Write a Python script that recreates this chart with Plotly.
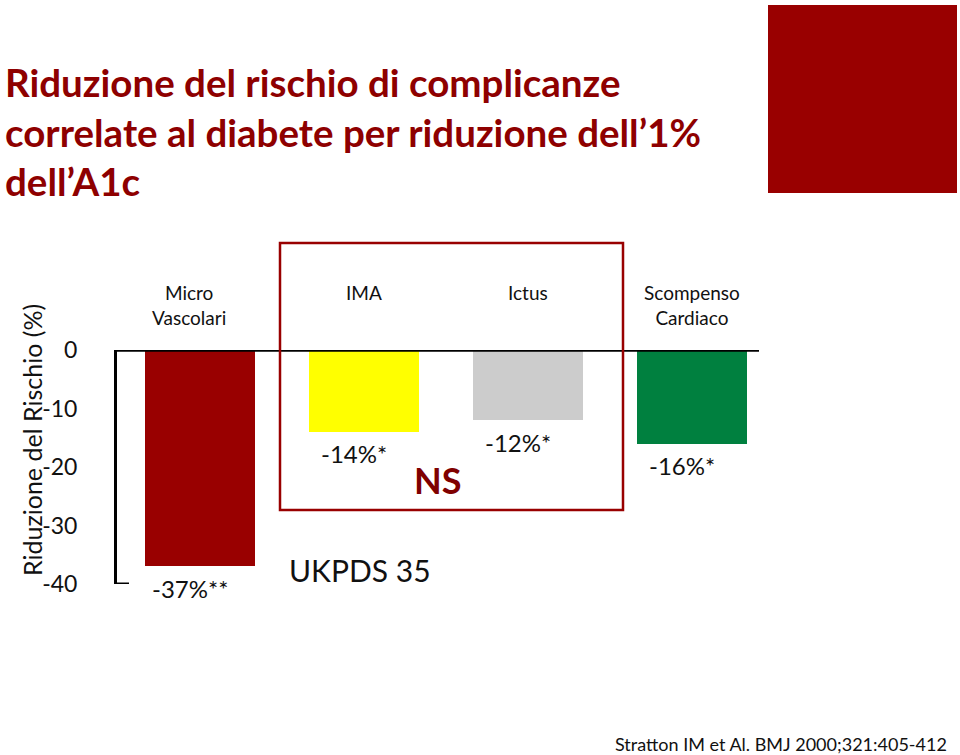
import plotly.graph_objects as go

# ---- data ----
categories = ["Micro<br>Vascolari", "IMA", "Ictus", "Scompenso<br>Cardiaco"]
values = [-37, -14, -12, -16]
value_labels = ["-37%**", "-14%*", "-12%*", "-16%*"]
bar_colors = ["#990000", "#FFFF00", "#CCCCCC", "#00803F"]
y_tickvals = [0, -10, -20, -30, -40]
y_ticktext = ["0", "-10", "-20", "-30", "-40"]
title_lines = [
    "Riduzione del rischio di complicanze",
    "correlate al diabete per riduzione dell\u20191%",
    "dell\u2019A1c",
]

W, H = 960, 755
L, R, T, B = 117, 202, 350, 171
PW, PH = W - L - R, H - T - B


def px(xp):
    return (xp - L) / PW


def py(yp):
    return (H - B - yp) / PH


BODY = "Lato, Open Sans, sans-serif"
TITLE_FONT = "Lato, Open Sans, sans-serif"

xs = list(range(len(categories)))

fig = go.Figure()
fig.add_trace(go.Bar(
    x=xs, y=values, marker=dict(color=bar_colors, line=dict(width=0)),
    width=0.67, hoverinfo="skip", showlegend=False,
))

annotations = []
# category labels above the plot
cat_shift = [-11, 0, 0, 0]
for i, c in enumerate(categories):
    annotations.append(dict(
        x=xs[i], xref="x", y=py(279), yref="paper", yanchor="top",
        text=c, showarrow=False, xshift=cat_shift[i],
        font=dict(family=BODY, size=19, color="#111111"),
    ))
# value labels below bars
for i, (v, t) in enumerate(zip(values, value_labels)):
    annotations.append(dict(
        x=xs[i], xref="x", y=v, yref="y", yanchor="middle",
        text=t, showarrow=False, xshift=-10, yshift=-22,
        font=dict(family=BODY, size=24, color="#111111"),
    ))

# title (one annotation per line)
title_centers = [82, 132, 181]
for line, yc in zip(title_lines, title_centers):
    annotations.append(dict(
        x=px(3), xref="paper", xanchor="left", y=py(yc), yref="paper", yanchor="middle",
        text=line, showarrow=False, align="left",
        font=dict(family=TITLE_FONT, size=38.5, color="#8E0000", weight="bold"),
    ))
# y-axis title
annotations.append(dict(
    x=px(32), xref="paper", xanchor="center", y=py(440), yref="paper", yanchor="middle",
    text="Riduzione del Rischio (%)", textangle=-90, showarrow=False,
    font=dict(family=BODY, size=25, color="#111111"),
))
# NS
annotations.append(dict(
    x=px(437), xref="paper", y=py(480), yref="paper", yanchor="middle",
    text="NS", showarrow=False,
    font=dict(family=TITLE_FONT, size=36, color="#7F0000", weight="bold"),
))
# UKPDS 35
annotations.append(dict(
    x=px(360), xref="paper", y=py(570), yref="paper", yanchor="middle",
    text="UKPDS 35", showarrow=False,
    font=dict(family=BODY, size=30, color="#111111"),
))
# citation
annotations.append(dict(
    x=px(949), xref="paper", xanchor="right", y=py(744), yref="paper", yanchor="middle",
    text="Stratton IM et Al. BMJ 2000;321:405-412", showarrow=False,
    font=dict(family=BODY, size=18, color="#111111"),
))

shapes = [
    # zero line
    dict(type="line", xref="paper", yref="y", x0=px(115), x1=px(759), y0=0, y1=0,
         line=dict(color="black", width=3.5), layer="above"),
    # bottom tick
    dict(type="line", xref="paper", yref="y", x0=0, x1=px(129), y0=-40, y1=-40,
         line=dict(color="black", width=3), layer="above"),
    # NS box
    dict(type="rect", xref="paper", yref="paper", x0=px(280), x1=px(623), y0=py(510), y1=py(243),
         line=dict(color="#990000", width=2.5), fillcolor="rgba(0,0,0,0)", layer="above"),
    # decorative square
    dict(type="rect", xref="paper", yref="paper", x0=px(768), x1=px(957), y0=py(193), y1=py(5),
         line=dict(width=0), fillcolor="#990000", layer="above"),
]

fig.update_layout(
    width=W, height=H, margin=dict(l=L, r=R, t=T, b=B, autoexpand=False),
    paper_bgcolor="white", plot_bgcolor="white",
    xaxis=dict(range=[-0.506, 3.4], showticklabels=False, showgrid=False,
               zeroline=False, showline=False, ticks=""),
    yaxis=dict(range=[-40, 0], tickvals=y_tickvals, ticktext=y_ticktext,
               showgrid=False, zeroline=False, showline=True, linecolor="black",
               linewidth=3, ticks="", ticklabelstandoff=32,
               tickfont=dict(family=BODY, size=23, color="#111111")),
    annotations=annotations, shapes=shapes, bargap=0,
)

fig.write_html("out.html")
